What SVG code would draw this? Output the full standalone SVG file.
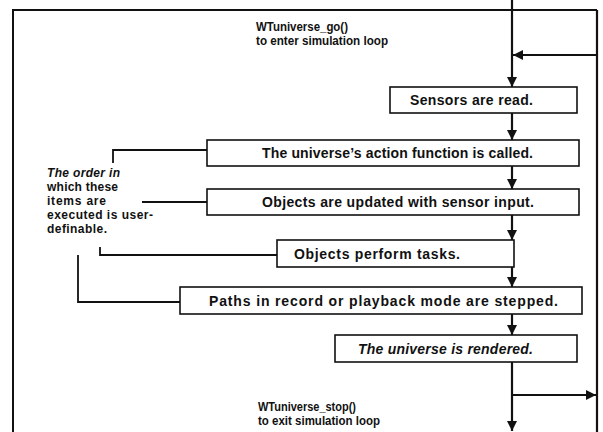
<svg xmlns="http://www.w3.org/2000/svg" width="603" height="432" viewBox="0 0 603 432">
  <style>
    .box { fill: #ffffff; stroke: #111; stroke-width: 1.6; }
    .bt { font-family: "Liberation Sans", Arial, sans-serif; font-weight: bold; font-size: 14px; fill: #111; }
    .lt { font-family: "Liberation Sans", Arial, sans-serif; font-weight: bold; font-size: 12.5px; fill: #111; }
    .nt { font-family: "Liberation Sans", Arial, sans-serif; font-weight: bold; font-size: 12px; fill: #111; }
    .it { font-style: italic; }
    .flow { fill: none; stroke: #111; stroke-width: 2.2; }
    .frame { fill: none; stroke: #111; stroke-width: 2; }
    .br { fill: none; stroke: #111; stroke-width: 1.8; }
  </style>
  <defs>
    <marker id="ah" viewBox="0 0 10 10" refX="10" refY="5" markerWidth="10" markerHeight="10" markerUnits="userSpaceOnUse" orient="auto">
      <path d="M0,0 L10,5 L0,10 z" fill="#111"/>
    </marker>
  </defs>
  <rect width="603" height="432" fill="#ffffff"/>

  <g id="connectors">
    <path class="frame" d="M13,432 V10 H597"/>
    <path class="flow" d="M597,10 V432" stroke-width="2.6"/>
    <path class="flow" d="M512,0 V87" marker-end="url(#ah)"/>
    <path class="flow" d="M597,55 H513" marker-end="url(#ah)"/>
    <path class="flow" d="M512,113 V140" marker-end="url(#ah)"/>
    <path class="flow" d="M512,166 V189" marker-end="url(#ah)"/>
    <path class="flow" d="M512,215 V240" marker-end="url(#ah)"/>
    <path class="flow" d="M512,267 V287" marker-end="url(#ah)"/>
    <path class="flow" d="M512,314 V335" marker-end="url(#ah)"/>
    <path class="flow" d="M512,362 V431" marker-end="url(#ah)"/>
    <path class="flow" d="M512,395 H596" marker-end="url(#ah)"/>
    <path class="br" d="M207,150 H113 V163"/>
    <path class="br" d="M207,202 H142"/>
    <path class="br" d="M277,255 H100 V247"/>
    <path class="br" d="M180,302 H78 V255"/>
  </g>

  <g id="start-label">
    <text class="lt" x="256" y="31" textLength="92" lengthAdjust="spacingAndGlyphs">WTuniverse_go()</text>
    <text class="lt" x="256" y="45" textLength="132" lengthAdjust="spacingAndGlyphs">to enter simulation loop</text>
  </g>

  <g id="sensors">
    <rect class="box" x="390" y="87" width="187" height="26"/>
    <text class="bt" x="410" y="105" textLength="123" lengthAdjust="spacing">Sensors are read.</text>
  </g>

  <g id="action">
    <rect class="box" x="207" y="140" width="372" height="26"/>
    <text class="bt" x="262" y="158" textLength="271" lengthAdjust="spacing">The universe’s action function is called.</text>
  </g>

  <g id="update">
    <rect class="box" x="207" y="189" width="372" height="26"/>
    <text class="bt" x="262" y="207" textLength="272" lengthAdjust="spacing">Objects are updated with sensor input.</text>
  </g>

  <g id="tasks">
    <rect class="box" x="277" y="240" width="237" height="27"/>
    <text class="bt" x="294" y="258.5" textLength="166" lengthAdjust="spacing">Objects perform tasks.</text>
  </g>

  <g id="paths">
    <rect class="box" x="180" y="287" width="402" height="27"/>
    <text class="bt" x="209" y="305.5" textLength="349" lengthAdjust="spacing">Paths in record or playback mode are stepped.</text>
  </g>

  <g id="render">
    <rect class="box" x="335" y="335" width="242" height="27"/>
    <text class="bt it" x="358" y="353.5" textLength="175" lengthAdjust="spacing">The universe is rendered.</text>
  </g>

  <g id="order-note">
    <text class="nt it" x="47" y="177" textLength="73" lengthAdjust="spacing">The order in</text>
    <text class="nt" x="47" y="191" textLength="71" lengthAdjust="spacing">which these</text>
    <text class="nt" x="47" y="205" textLength="59" lengthAdjust="spacing">items are</text>
    <text class="nt" x="47" y="219" textLength="106" lengthAdjust="spacing">executed is user-</text>
    <text class="nt" x="47" y="233" textLength="60" lengthAdjust="spacing">definable.</text>
  </g>

  <g id="stop-label">
    <text class="lt" x="258" y="411" textLength="98" lengthAdjust="spacingAndGlyphs">WTuniverse_stop()</text>
    <text class="lt" x="258" y="425" textLength="122" lengthAdjust="spacingAndGlyphs">to exit simulation loop</text>
  </g>
</svg>
